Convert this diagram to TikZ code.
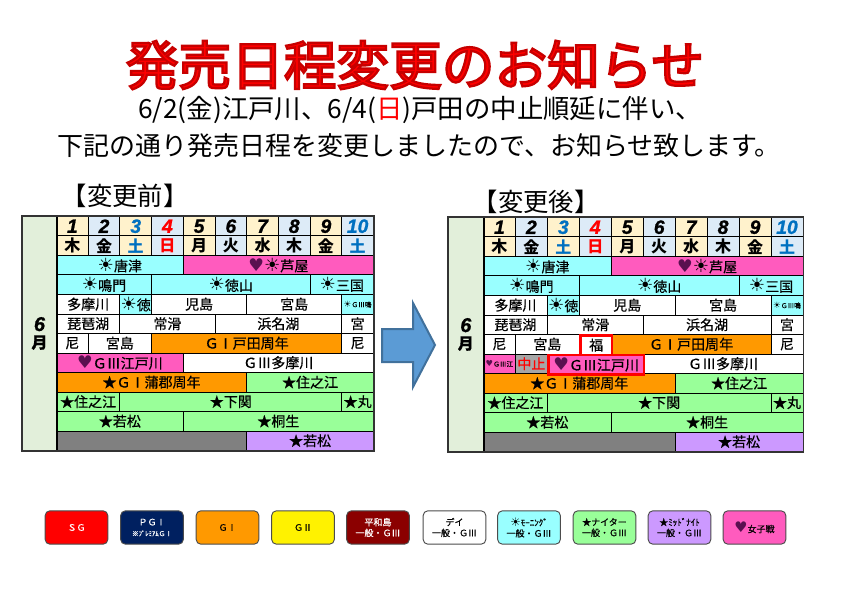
\documentclass[tikz,border=0pt]{standalone}
\usepackage{fontspec}
\setmainfont{Noto Sans CJK JP}
\newfontfamily\cellfont{Noto Sans CJK JP}[FakeBold=0.5]
\newfontfamily\symfont{DejaVu Sans}
\newfontfamily\digitfont{Liberation Sans}[BoldItalicFeatures={FakeBold=1}]
\definecolor{creambg}{HTML}{FFF2CC}
\definecolor{palebg}{HTML}{DDEBF7}
\definecolor{monthbg}{HTML}{E2EFDA}
\definecolor{mornbg}{HTML}{99FFFF}
\definecolor{ladybg}{HTML}{FF5BBE}
\definecolor{nightbg}{HTML}{99FF99}
\definecolor{midbg}{HTML}{CC99FF}
\definecolor{gionebg}{HTML}{FF9900}
\definecolor{navybg}{HTML}{002060}
\definecolor{peacebg}{HTML}{8B0000}
\definecolor{dayblue}{HTML}{0070C0}
\definecolor{heartink}{HTML}{5A1050}
\definecolor{arrowbg}{HTML}{5B9BD5}
\definecolor{arrowln}{HTML}{41719C}
\tikzset{
	cell/.style={draw=black, line width=0.7pt, inner sep=0pt, anchor=north west, font=\cellfont\fontsize{10.5}{12}\selectfont},
	tinycell/.style={font=\cellfont\fontsize{5}{6}\selectfont},
	numcell/.style={font=\digitfont\bfseries\itshape\fontsize{14.5}{14}\selectfont},
	daycell/.style={font=\bfseries\fontsize{12}{14}\selectfont},
	redframe/.style={draw=red, line width=2pt},
	outerframe/.style={draw=black!80, line width=1.2pt},
	legend/.style={draw=black!70, line width=0.7pt, rounded corners=3.5pt, minimum width=47pt, minimum height=25pt, inner sep=0pt, align=center, font=\cellfont\fontsize{6.75}{10}\selectfont},
	tabletitle/.style={font=\fontsize{19}{19}\selectfont}
}
\newcommand{\sunmark}{{\symfont\fontsize{1.3em}{1em}\selectfont ☀}}
\newcommand{\heartmark}{{\symfont\fontsize{1.25em}{1em}\selectfont\textcolor{heartink}{♥}}}
% name, first column, last column, row, style, text
\newcommand{\timecell}[6]{\node[cell,#5,minimum width={(#3-#2)*\colw*0.75pt},minimum height={\rowh*0.75pt}] (#1) at ({#2*\colw},{#4*\rowh}) {#6};}
\newcommand{\headrows}[1]{%
	\foreach \i/\num/\dy/\bg/\ink in {0/1/木/creambg/black,1/2/金/palebg/black,2/3/土/creambg/dayblue,3/4/日/palebg/red,4/5/月/creambg/black,5/6/火/palebg/black,6/7/水/creambg/black,7/8/木/palebg/black,8/9/金/creambg/black,9/10/土/palebg/dayblue}{
		\pgfmathtruncatemacro{\j}{\i+1}
		\timecell{#1num\num}{\i}{\j}{0}{numcell,fill=\bg,text=\ink}{\num}
		\timecell{#1dy\num}{\i}{\j}{1}{daycell,fill=\bg,text=\ink}{\dy}
	}
	\timecell{#1kara}{0}{4}{2}{fill=mornbg}{\sunmark 唐津}
	\timecell{#1ashi}{4}{10}{2}{fill=ladybg}{\heartmark\sunmark 芦屋}
	\timecell{#1naru}{0}{3}{3}{fill=mornbg}{\sunmark 鳴門}
	\timecell{#1toku}{3}{8}{3}{fill=mornbg}{\sunmark 徳山}
	\timecell{#1mikuni}{8}{10}{3}{fill=mornbg}{\sunmark 三国}
	\timecell{#1tama}{0}{2}{4}{fill=white}{多摩川}
	\timecell{#1tok}{2}{3}{4}{fill=mornbg}{\sunmark 徳}
	\timecell{#1koji}{3}{6}{4}{fill=white}{児島}
	\timecell{#1miya}{6}{9}{4}{fill=white}{宮島}
	\timecell{#1nrt}{9}{10}{4}{fill=mornbg,tinycell}{\sunmark ＧⅢ鳴}
	\timecell{#1biwa}{0}{2}{5}{fill=white}{琵琶湖}
	\timecell{#1toko}{2}{5}{5}{fill=white}{常滑}
	\timecell{#1hama}{5}{9}{5}{fill=white}{浜名湖}
	\timecell{#1miy}{9}{10}{5}{fill=white}{宮}
	\timecell{#1ama}{0}{1}{6}{fill=white}{尼}
	\timecell{#1mjm}{1}{3}{6}{fill=white}{宮島}
}
\newcommand{\tailrows}[1]{%
	\timecell{#1gama}{0}{6}{8}{fill=gionebg}{★ＧⅠ蒲郡周年}
	\timecell{#1sumi}{6}{10}{8}{fill=nightbg}{★住之江}
	\timecell{#1sum}{0}{2}{9}{fill=nightbg}{★住之江}
	\timecell{#1shimo}{2}{9}{9}{fill=nightbg}{★下関}
	\timecell{#1maru}{9}{10}{9}{fill=nightbg}{★丸}
	\timecell{#1waka}{0}{4}{10}{fill=nightbg}{★若松}
	\timecell{#1kiryu}{4}{10}{10}{fill=nightbg}{★桐生}
	\timecell{#1gray}{0}{6}{11}{fill=black!50}{}
	\timecell{#1wak}{6}{10}{11}{fill=midbg}{★若松}
}
\newcommand{\monthtext}{{\digitfont\bfseries\itshape\fontsize{15}{16}\selectfont 6}\\[1pt]{\bfseries\fontsize{12}{14}\selectfont 月}}
\begin{document}
\begin{tikzpicture}[x=0.75pt,y=-0.75pt]
	\useasboundingbox (0,0) rectangle (842,595);
	% heading
	\node[text=red, font=\fontsize{39.5}{40}\selectfont] (headline) at (415,65) {\special{pdf:code 2 Tr 1.7 w 0.78 0 0 RG}発売日程変更のお知らせ\special{pdf:code 0 Tr}};
	\node[font=\fontsize{19.8}{20}\selectfont] (lineone) at (420,110) {6/2(金)江戸川、6/4(\textcolor{red}{日})戸田の中止順延に伴い、};
	\node[font=\fontsize{19.5}{20}\selectfont] (linetwo) at (419,146) {下記の通り発売日程を変更しましたので、お知らせ致します。};
	\node[tabletitle] (beforetitle) at (125,196) {【変更前】};
	\node[tabletitle] (aftertitle) at (536,202) {【変更後】};
	% table before
	\node[cell,fill=monthbg,minimum width=25.5pt,minimum height=175.5pt,align=center] (monthl) at (22,216) {\monthtext};
	\begin{scope}[shift={(56,216)}]
		\def\colw{31.7}
		\def\rowh{19.5}
		\headrows{l}
		\timecell{ltoda}{3}{9}{6}{fill=gionebg}{ＧⅠ戸田周年}
		\timecell{lamb}{9}{10}{6}{fill=white}{尼}
		\timecell{ledo}{0}{4}{7}{fill=ladybg}{\heartmark ＧⅢ江戸川}
		\timecell{ltmg}{4}{10}{7}{fill=white}{ＧⅢ多摩川}
		\tailrows{l}
	\end{scope}
	\draw[line width=1.6pt] (monthl.north east) -- (monthl.south east);
	\draw[outerframe] (monthl.north west) rectangle (lwak.south east);
	% table after
	\node[cell,fill=monthbg,minimum width=26pt,minimum height=175.5pt,align=center] (monthr) at (448,217) {\monthtext};
	\begin{scope}[shift={(483,217)}]
		\def\colw{31.95}
		\def\rowh{19.5}
		\headrows{r}
		\timecell{rtoda}{4}{9}{6}{fill=gionebg}{ＧⅠ戸田周年}
		\timecell{ramb}{9}{10}{6}{fill=white}{尼}
		\timecell{redo}{0}{1}{7}{fill=ladybg,tinycell}{\heartmark ＧⅢ江}
		\timecell{rstop}{1}{2}{7}{fill=black!35,text=red}{中止}
		\timecell{rtmg}{5}{10}{7}{fill=white}{ＧⅢ多摩川}
		\tailrows{r}
		\timecell{rfuku}{3}{4}{6}{fill=white,redframe}{福}
		\timecell{rnew}{2}{5}{7}{fill=ladybg,redframe}{\heartmark ＧⅢ江戸川}
	\end{scope}
	\draw[line width=1.6pt] (monthr.north east) -- (monthr.south east);
	\draw[outerframe] (monthr.north west) rectangle (rwak.south east);
	% arrow between the tables
	\draw[fill=arrowbg, draw=arrowln, line width=1.5pt] (382,329) -- (413,329) -- (413,303) -- (435,345) -- (413,387) -- (413,362) -- (382,362) -- cycle;
	% legend
	\foreach \nm/\xx/\bg/\ink/\txt in {
		sg/76.5/red/white/ＳＧ,
		pg/152/navybg/white/{ＰＧⅠ\\[-2pt]{\fontsize{5}{6}\selectfont ※ﾌﾟﾚﾐｱﾑＧⅠ}},
		gone/227.5/gionebg/black/ＧⅠ,
		gtwo/303/yellow/black/ＧⅡ,
		peace/378/peacebg/white/{平和島\\[-2pt]一般・ＧⅢ},
		day/454.5/white/black/{デイ\\[-2pt]一般・ＧⅢ},
		morn/529/mornbg/black/{\sunmark ﾓｰﾆﾝｸﾞ\\[-2pt]一般・ＧⅢ},
		night/604.5/nightbg/black/{★ナイター\\[-2pt]一般・ＧⅢ},
		mid/679.5/midbg/black/{★ﾐｯﾄﾞﾅｲﾄ\\[-2pt]一般・ＧⅢ},
		lady/754.5/ladybg/black/{{\symfont\fontsize{11}{10}\selectfont\textcolor{heartink}{♥}}女子戦}}
	\node[legend,fill=\bg,text=\ink] (\nm) at (\xx,527.5) {\txt};
\end{tikzpicture}
\end{document}
